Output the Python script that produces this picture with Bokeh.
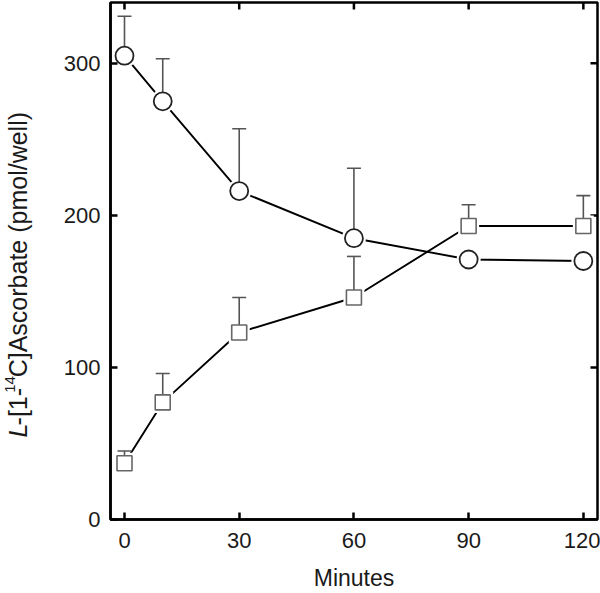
from bokeh.plotting import figure
from bokeh.models import Range1d, FixedTicker
from bokeh.layouts import row
from bokeh.core.properties import value
from bokeh.embed import file_html
from bokeh.resources import INLINE
import math

# ---- data ----
minutes = [0, 10, 30, 60, 90, 120]
circle_mean = [305, 275, 216, 185, 171, 170]
circle_upper = [331, 303, 257, 231, 171, 170]
square_mean = [37, 77, 123, 146, 193, 193]
square_upper = [45, 96, 146, 173, 207, 213]
x_ticks = [0, 30, 60, 90, 120]
y_ticks = [0, 100, 200, 300]
x_lo, x_hi = -3.66, 123.7
y_lo, y_hi = 0, 340
ylabel_parts = ["L", "-[1-", "14", "C]Ascorbate (pmol/well)"]

FONT = "Liberation Sans"
H = 593
LAB_W = 55

# ---- main plot ----
p = figure(width=600 - LAB_W, height=H, output_backend="svg", toolbar_location=None,
           x_range=Range1d(x_lo, x_hi), y_range=Range1d(y_lo, y_hi),
           min_border_left=110 - LAB_W, min_border_right=3, min_border_top=2,
           min_border_bottom=71)
p.grid.visible = False
p.outline_line_color = "black"
p.outline_line_width = 2.5
p.outline_line_alpha = 1.0

def style_axis(ax):
    ax.axis_line_width = 2.5
    ax.axis_line_color = "black"
    ax.major_tick_in = 7
    ax.major_tick_out = 0
    ax.major_tick_line_width = 2.5
    ax.major_tick_line_color = "black"
    ax.minor_tick_line_color = None
    ax.major_label_text_font = FONT
    ax.major_label_text_font_size = "22px"
    ax.major_label_text_color = "#1a1a1a"

style_axis(p.xaxis[0])
style_axis(p.yaxis[0])
p.xaxis[0].ticker = FixedTicker(ticks=x_ticks)
p.yaxis[0].ticker = FixedTicker(ticks=y_ticks)
p.xaxis[0].major_label_standoff = 13
p.yaxis[0].major_label_standoff = 10
p.xaxis[0].axis_label = "Minutes"
p.xaxis[0].axis_label_text_font = FONT
p.xaxis[0].axis_label_text_font_size = "23px"
p.xaxis[0].axis_label_text_font_style = "normal"
p.xaxis[0].axis_label_text_color = "#1a1a1a"
p.xaxis[0].axis_label_standoff = 14

# inward ticks on the top and right edges (half of each dash is clipped by the frame)
p.scatter(x=x_ticks, y=[y_hi] * len(x_ticks), marker="dash", angle=math.pi / 2, size=14,
          line_color="black", line_width=2.5)
p.scatter(x=[x_hi] * len(y_ticks), y=y_ticks, marker="dash", size=14,
          line_color="black", line_width=2.5)

# connecting lines
p.line(minutes, circle_mean, line_color="black", line_width=1.9)
p.line(minutes, square_mean, line_color="black", line_width=1.9)
# white halos leave gaps between lines and markers
p.scatter(minutes, circle_mean, marker="circle", size=24, fill_color="white", line_color=None)
p.scatter(minutes, square_mean, marker="square", size=21, fill_color="white", line_color=None)
# upper error bars
p.segment(x0=minutes, y0=circle_mean, x1=minutes, y1=circle_upper, line_color="#555555", line_width=1.6)
p.segment(x0=minutes, y0=square_mean, x1=minutes, y1=square_upper, line_color="#555555", line_width=1.6)
p.scatter(minutes, circle_upper, marker="dash", size=14, line_color="#555555", line_width=1.6)
p.scatter(minutes, square_upper, marker="dash", size=14, line_color="#555555", line_width=1.6)
# markers
p.scatter(minutes, circle_mean, marker="circle", size=18, fill_color="white", line_color="#222222", line_width=1.8)
p.scatter(minutes, square_mean, marker="square", size=15, fill_color="white", line_color="#666666", line_width=1.6)

# ---- rotated y-axis label panel (italic L, superscript 14) ----
lab = figure(width=LAB_W, height=H, output_backend="svg", toolbar_location=None,
             x_range=Range1d(0, LAB_W), y_range=Range1d(0, H),
             min_border=0, min_border_left=0, min_border_right=0,
             min_border_top=0, min_border_bottom=0,
             x_axis_type=None, y_axis_type=None)
lab.grid.visible = False
lab.outline_line_color = None

F = 25
SUP = 15
advances = [0.556 * F, 1.5 * F, 1.112 * SUP + 1]
pos = 94
base_x = 17
styles = ["italic", "normal", "normal", "normal"]
sizes = [F, F, SUP, F]
xs = [base_x, base_x, base_x - 8, base_x]
for i, txt in enumerate(ylabel_parts):
    lab.text(x=[xs[i]], y=[pos], text=[txt], angle=math.pi / 2,
             text_font=value(FONT), text_font_style=styles[i],
             text_font_size=f"{sizes[i]}px", text_color="#1a1a1a",
             text_align="left", text_baseline="alphabetic")
    if i < len(advances):
        pos += advances[i]

open("out.html", "w").write(file_html(row(lab, p, spacing=0), INLINE))
